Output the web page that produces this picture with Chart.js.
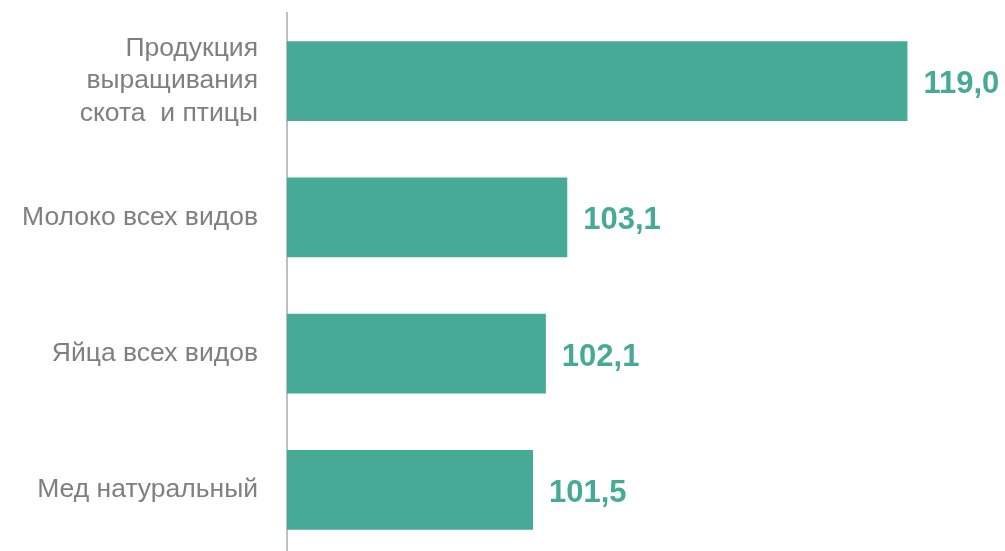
<!DOCTYPE html>
<html>
<head>
<meta charset="utf-8">
<script src="https://cdn.jsdelivr.net/npm/chart.js@4"></script>
<style>
  html, body { margin: 0; padding: 0; background: #fff; overflow: hidden; }
</style>
</head>
<body>
<canvas id="myChart" width="1005" height="560"></canvas>
<script>
// categories and values
const categories = [
    ['Продукция', 'выращивания', 'скота  и птицы'],
    'Молоко всех видов',
    'Яйца всех видов',
    'Мед натуральный',
];
const values = [119.0, 103.1, 102.1, 101.5];
const valueLabels = ['119,0', '103,1', '102,1', '101,5'];

const teal = '#46AA97';

// value labels next to bar ends
const valueLabelPlugin = {
    id: 'valueLabels',
    afterDatasetsDraw(chart) {
        const ctx = chart.ctx;
        const meta = chart.getDatasetMeta(0);
        ctx.save();
        ctx.font = 'bold 31px "Liberation Sans", Arial, sans-serif';
        ctx.fillStyle = teal;
        ctx.textAlign = 'left';
        ctx.textBaseline = 'alphabetic';
        meta.data.forEach(function (bar, i) {
            ctx.fillText(valueLabels[i], bar.x + 16, bar.y + 12);
        });
        ctx.restore();
    }
};

const data = {
    labels: categories,
    datasets: [{
        data: values,
        backgroundColor: teal,
        borderWidth: 0,
        categoryPercentage: 1,
        barPercentage: 0.587,
    }]
};

const config = {
    type: 'bar',
    data: data,
    options: {
        indexAxis: 'y',
        responsive: false,
        animation: false,
        layout: { padding: { top: 13, bottom: 2, left: 0, right: 12 } },
        plugins: {
            legend: { display: false },
            tooltip: { enabled: false },
        },
        scales: {
            x: {
                display: false,
                min: 90,
                max: 123,
            },
            y: {
                grid: { display: false, drawTicks: false, tickLength: 0 },
                border: { display: true, color: '#BFBFBF', width: 2 },
                ticks: {
                    color: '#7F7F7F',
                    padding: 29,
                    font: { family: '"Liberation Sans", Arial, sans-serif', size: 26.5, lineHeight: 1.23 },
                },
                afterFit(scale) {
                    scale.width = 287;
                    scale.paddingTop = 0;
                    scale.paddingBottom = 0;
                },
            }
        }
    },
    plugins: [valueLabelPlugin]
};

const myChart = new Chart(document.getElementById('myChart'), config);
</script>
</body>
</html>
